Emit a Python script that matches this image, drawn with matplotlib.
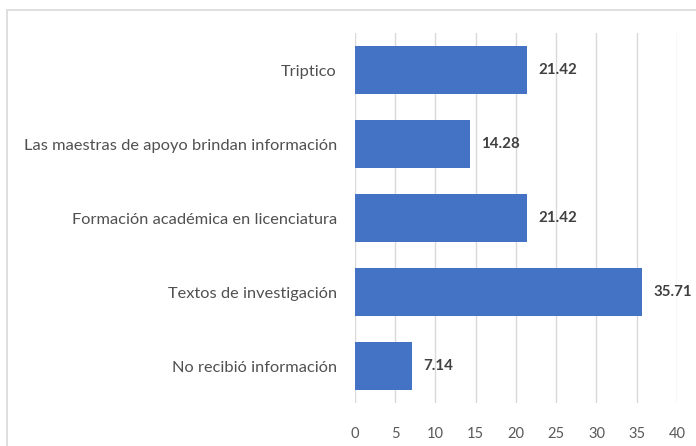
import matplotlib.pyplot as plt
from matplotlib.patches import Rectangle

# categorias y porcentajes
categorias = ['Triptico', 'Las maestras de apoyo brindan información',
              'Formación académica en licenciatura', 'Textos de investigación',
              'No recibió información']
valores = [21.42, 14.28, 21.42, 35.71, 7.14]
ticks_x = [0, 5, 10, 15, 20, 25, 30, 35, 40]

plt.rcParams['font.family'] = ['Lato', 'DejaVu Sans']

fig = plt.figure(figsize=(6.96, 4.46), dpi=100)
ax = fig.add_axes([0.510, 0.0964, 0.4626, 0.8296])

# marco del grafico
fig.patches.append(Rectangle((7 / 696, -0.05), 1.1, 1 - 10 / 446 + 0.05,
                             transform=fig.transFigure, fill=False,
                             edgecolor='#d9d9d9', linewidth=1.2))

pos = list(range(len(categorias)))[::-1]
ax.barh(pos, valores, height=0.66, color='#4472c4', zorder=3)
for p, v in zip(pos, valores):
    ax.text(v + 1.4, p, f'{v:.2f}', va='center', ha='left', fontsize=10.8,
            fontweight='bold', color='#404040', clip_on=False)

ax.set_xlim(0, 40)
ax.set_ylim(-0.5, 4.5)
ax.set_xticks(ticks_x)
ax.set_yticks(pos)
ax.set_yticklabels(categorias)
ax.tick_params(axis='x', length=0, pad=17, labelsize=10.5, labelcolor='#595959')
ax.tick_params(axis='y', length=0, pad=13, labelsize=11.8, labelcolor='#505050')
ax.grid(axis='x', color='#d9d9d9', linewidth=1, zorder=0)
for s in ax.spines.values():
    s.set_visible(False)

fig.savefig('out.png', dpi=100)
